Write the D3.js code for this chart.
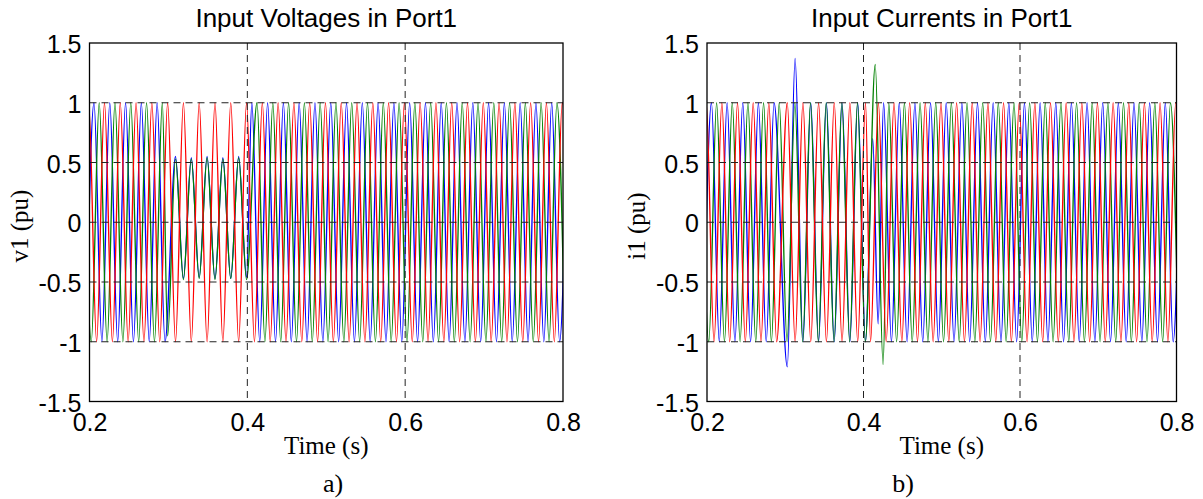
<!DOCTYPE html>
<html><head><meta charset="utf-8">
<script src="https://cdn.jsdelivr.net/npm/d3@7/dist/d3.min.js"></script>
<style>html,body{margin:0;padding:0;background:#fff;}</style>
</head><body>
<script>
// ---------- data ----------
const xTicks = [0.2, 0.4, 0.6, 0.8];
const xTickLabels = ["0.2", "0.4", "0.6", "0.8"];
const yTicks = [-1.5, -1, -0.5, 0, 0.5, 1, 1.5];
const yTickLabels = ["-1.5", "-1", "-0.5", "0", "0.5", "1", "1.5"];
const xGrid = [0.4, 0.6];
const yGrid = [-1, -0.5, 0, 0.5, 1];
const halfCycle = 0.01; // 50 Hz: one extremum every 10 ms

// Voltages (pu): successive half-cycle extremum values, each run starting at the given time
const vRedStarts = [0.189];
const vRedPeaks = [[-1,1,-1,1,-1,1,-1,1,-1,1,-1,1,-1,1,-1,1,-1,1,-1,1,-1,1,-1,1,-1,1,-1,1,-1,1,-1,1,-1,1,-1,1,-1,1,-1,1,-1,1,-1,1,-1,1,-1,1,-1,1,-1,1,-1,1,-1,1,-1,1,-1,1,-1,1,-1]];
const vBlueStarts = [0.1957, 0.309, 0.4057];
const vBluePeaks = [
  [-1,1,-1,1,-1,1,-1,1,-1,1,-1],
  [0.55,-0.47,0.54,-0.46,0.55,-0.47,0.54,-0.47,0.55,-0.46],
  [1,-1,1,-1,1,-1,1,-1,1,-1,1,-1,1,-1,1,-1,1,-1,1,-1,1,-1,1,-1,1,-1,1,-1,1,-1,1,-1,1,-1,1,-1,1,-1,1,-1,1]
];
const vGreenStarts = [0.1923, 0.299, 0.4123];
const vGreenPeaks = [
  [1,-1,1,-1,1,-1,1,-1,1,-1,1],
  [-0.95,0.53,-0.48,0.53,-0.47,0.54,-0.48,0.53,-0.47,0.54,-0.48],
  [1,-1,1,-1,1,-1,1,-1,1,-1,1,-1,1,-1,1,-1,1,-1,1,-1,1,-1,1,-1,1,-1,1,-1,1,-1,1,-1,1,-1,1,-1,1,-1,1,-1]
];

// Currents (pu)
const iRedStarts = [0.189, 0.3026, 0.409];
const iRedPeaks = [
  [-1,1,-1,1,-1,1,-1,1,-1,1,-1],
  [1,-1,1,-1,1,-1,1,-1,1,-1,1],
  [-1,1,-1,1,-1,1,-1,1,-1,1,-1,1,-1,1,-1,1,-1,1,-1,1,-1,1,-1,1,-1,1,-1,1,-1,1,-1,1,-1,1,-1,1,-1,1,-1,1,-1]
];
const iBlueStarts = [0.1957, 0.3026, 0.4118, 0.4187, 0.4257];
const iBluePeaks = [
  [-1,1,-1,1,-1,1,-1,1,-1,1],
  [-1.21,1.37,-1,1,-1,1,-1,1,-1,1,-1],
  [0.7],
  [-0.85],
  [1,-1,1,-1,1,-1,1,-1,1,-1,1,-1,1,-1,1,-1,1,-1,1,-1,1,-1,1,-1,1,-1,1,-1,1,-1,1,-1,1,-1,1,-1,1,-1,1]
];
const iGreenStarts = [0.1923, 0.415, 0.4323];
const iGreenPeaks = [
  [1,-1,1,-1,1,-1,1,-1,1,-1,1,-1,1,-1,1,-1,1,-1,1,-1,1,-1],
  [1.32,-1.19],
  [1,-1,1,-1,1,-1,1,-1,1,-1,1,-1,1,-1,1,-1,1,-1,1,-1,1,-1,1,-1,1,-1,1,-1,1,-1,1,-1,1,-1,1,-1,1,-1]
];

const panels = [
  { title: "Input Voltages in Port1", ylabel: "v1 (pu)", tag: "a)",
    series: [[vBlueStarts, vBluePeaks, "#0000ff"], [vGreenStarts, vGreenPeaks, "#008000"], [vRedStarts, vRedPeaks, "#ff0000"]] },
  { title: "Input Currents in Port1", ylabel: "i1 (pu)", tag: "b)",
    series: [[iBlueStarts, iBluePeaks, "#0000ff"], [iGreenStarts, iGreenPeaks, "#008000"], [iRedStarts, iRedPeaks, "#ff0000"]] }
];

// ---------- layout ----------
const W = 1203, H = 499;
const boxes = [
  { x0: 89.5, x1: 563, tagX: 333 },
  { x0: 707, x1: 1176.5, tagX: 903 }
];
const yTop = 43, yBot = 401.5;

const svg = d3.select("body").append("svg").attr("width", W).attr("height", H)
  .style("font-family", "'Liberation Sans', Arial, Helvetica, sans-serif");

panels.forEach((p, pi) => {
  const b = boxes[pi];
  const x = d3.scaleLinear().domain([0.2, 0.8]).range([b.x0, b.x1]);
  const y = d3.scaleLinear().domain([-1.5, 1.5]).range([yBot, yTop]);
  const g = svg.append("g");

  const clipId = "clip" + pi;
  svg.append("clipPath").attr("id", clipId).append("rect")
    .attr("x", b.x0).attr("y", yTop).attr("width", b.x1 - b.x0).attr("height", yBot - yTop);

  // traces
  const line = d3.line().x(d => x(d.t)).y(d => y(d.v)).curve(d3.curveMonotoneX);
  const traces = g.append("g").attr("clip-path", `url(#${clipId})`);
  p.series.forEach(([starts, peaks, color]) => {
    const pts = [];
    starts.forEach((t0, si) => peaks[si].forEach((v, k) => pts.push({ t: t0 + k * halfCycle, v })));
    pts.sort((a, b2) => a.t - b2.t);
    traces.append("path").datum(pts).attr("d", line)
      .attr("fill", "none").attr("stroke", color).attr("stroke-width", 1.35);
  });

  // grid (on top)
  const grid = g.append("g").attr("stroke", "#222").attr("stroke-width", 1).attr("stroke-dasharray", "7,5");
  grid.selectAll("line.h").data(yGrid).join("line")
    .attr("x1", b.x0).attr("x2", b.x1).attr("y1", d => y(d)).attr("y2", d => y(d));
  grid.selectAll("line.v").data(xGrid).join("line")
    .attr("y1", yTop).attr("y2", yBot).attr("x1", d => x(d)).attr("x2", d => x(d));

  // box
  g.append("rect").attr("x", b.x0).attr("y", yTop).attr("width", b.x1 - b.x0).attr("height", yBot - yTop)
    .attr("fill", "none").attr("stroke", "#000").attr("stroke-width", 1.3);

  // axes labels via d3 axes (no tick lines)
  const xAxis = d3.axisBottom(x).tickValues(xTicks).tickFormat((d, i) => xTickLabels[i]).tickSize(0).tickPadding(0);
  const xa = g.append("g").attr("transform", `translate(0,${yBot})`).call(xAxis);
  xa.select(".domain").remove();
  xa.selectAll("text").attr("dy", null).attr("y", 29.5).attr("font-size", 25)
    .attr("font-family", "'Liberation Sans', Arial, sans-serif").attr("fill", "#000");

  const yAxis = d3.axisLeft(y).tickValues(yTicks).tickFormat((d, i) => yTickLabels[i]).tickSize(0).tickPadding(8);
  const ya = g.append("g").attr("transform", `translate(${b.x0},0)`).call(yAxis);
  ya.select(".domain").remove();
  ya.selectAll("text").attr("dy", "0.38em").attr("font-size", 25)
    .attr("font-family", "'Liberation Sans', Arial, sans-serif").attr("fill", "#000");

  const cx = (b.x0 + b.x1) / 2;
  g.append("text").attr("x", cx).attr("y", 27).attr("text-anchor", "middle")
    .attr("font-size", 26).text(p.title);
  g.append("text").attr("x", cx).attr("y", 454).attr("text-anchor", "middle")
    .attr("font-family", "'Liberation Serif', 'Times New Roman', serif").attr("font-size", 25).text("Time (s)");
  g.append("text").attr("transform", `translate(${b.x0 - 62},226) rotate(-90)`).attr("text-anchor", "middle")
    .attr("font-family", "'Liberation Serif', 'Times New Roman', serif").attr("font-size", 25).text(p.ylabel);
  g.append("text").attr("x", b.tagX).attr("y", 492).attr("text-anchor", "middle")
    .attr("font-family", "'Liberation Serif', 'Times New Roman', serif").attr("font-size", 26).text(p.tag);
});
</script>
</body></html>
